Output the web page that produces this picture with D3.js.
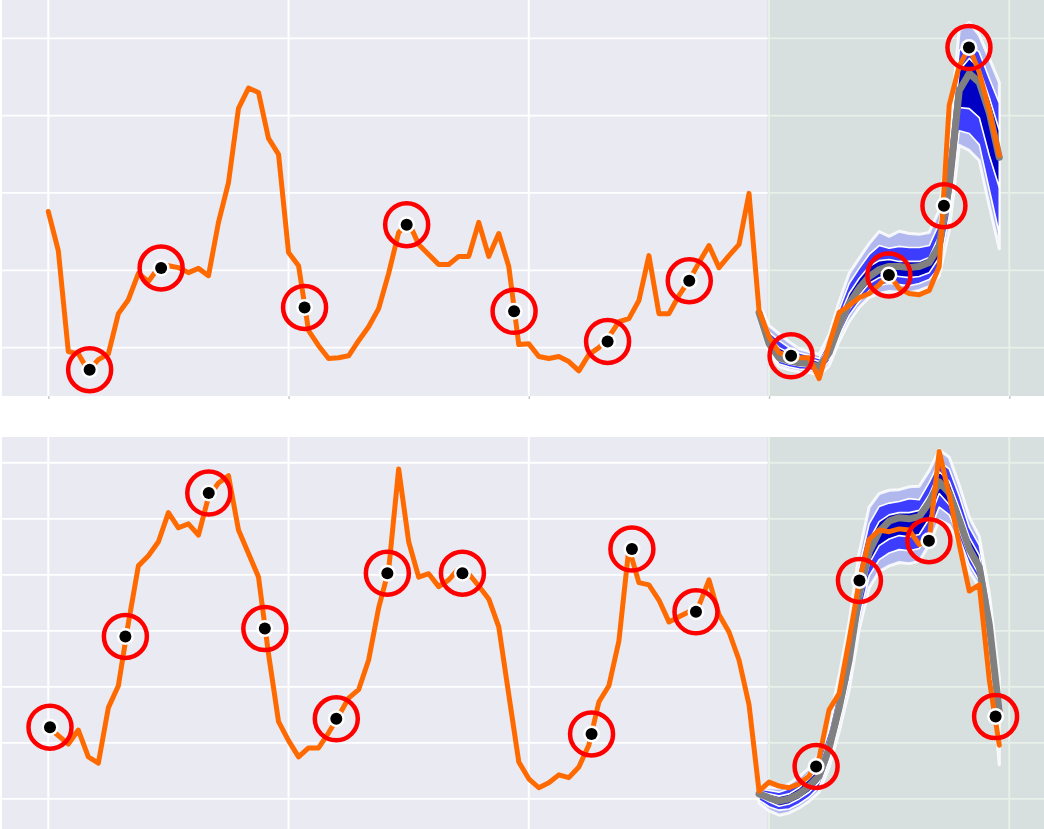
<!DOCTYPE html>
<html>
<head>
<meta charset="utf-8">
<script src="https://cdn.jsdelivr.net/npm/d3@7"></script>
<style>
  html, body { margin: 0; padding: 0; background: #ffffff; }
  svg { display: block; }
</style>
</head>
<body>
<svg id="chart" width="1044" height="829"></svg>
<script>
// ---------------------------------------------------------------------------
// Hourly series over four days; the probabilistic forecast covers the last day.
// ---------------------------------------------------------------------------
const hours = d3.range(96);
const dayTicks = [0, 24, 48, 72, 96];
const forecastStart = 72;
const forecastHours = d3.range(71, 96);

// ---- Series A (upper panel) ----
const observedA = [
  55.2, 45.1, 19.0, 18.4, 14.0, 16.9, 18.4, 28.8, 32.4, 39.2,
  37.1, 40.7, 41.2, 40.7, 39.4, 40.5, 38.6, 52.4, 62.7, 81.9,
  87.1, 86.0, 74.1, 70.0, 44.6, 41.2, 24.4, 20.5, 17.2, 17.4,
  17.9, 21.8, 25.4, 30.1, 39.2, 49.8, 52.4, 46.7, 44.1, 41.5,
  41.5, 43.6, 43.6, 52.4, 43.6, 49.5, 41.0, 20.8, 21.0, 17.7,
  17.2, 17.7, 16.4, 14.0, 18.2, 20.0, 22.8, 26.7, 27.5, 32.2,
  43.8, 28.8, 28.8, 33.5, 37.3, 42.0, 46.4, 40.7, 43.8, 46.7,
  59.9, 29.6, 22.8, 18.7, 17.9, 17.4, 17.4, 12.0, 20.8, 29.1,
  30.9, 32.9, 34.0, 36.3, 38.9, 35.3, 34.0, 33.7, 34.8, 41.0,
  82.7, 92.8, 97.7, 91.2, 81.4, 69.7
];
const medianA = [29.1, 21.0, 17.4, 16.6, 16.1, 15.9, 15.1, 18.7, 25.7, 31.4, 35.3, 38.4, 40.2, 41.0, 41.0, 40.7, 41.0, 42.0, 46.4, 61.9, 86.5, 90.9, 88.6, 80.8, 69.2];
const q10A = [27.0, 18.7, 15.1, 14.3, 13.8, 13.6, 12.8, 15.3, 21.6, 26.7, 30.4, 33.0, 34.0, 34.5, 34.3, 34.2, 34.8, 35.8, 38.6, 50.3, 72.3, 71.0, 68.4, 56.7, 45.6];
const q25A = [27.8, 19.4, 15.8, 15.0, 14.5, 14.3, 13.5, 16.4, 22.9, 28.3, 31.9, 34.8, 36.1, 36.6, 36.3, 36.0, 36.6, 37.6, 40.7, 54.1, 76.1, 75.4, 72.5, 60.9, 49.5];
const q40A = [28.3, 20.2, 16.6, 15.8, 15.3, 15.1, 14.3, 17.4, 24.1, 29.8, 33.5, 36.6, 38.1, 38.7, 38.4, 38.1, 38.4, 39.4, 43.3, 58.0, 82.1, 81.8, 79.5, 69.7, 61.4];
const q60A = [29.9, 22.8, 20.0, 18.7, 17.7, 17.2, 16.4, 20.3, 27.8, 34.0, 37.9, 41.0, 42.5, 42.8, 42.3, 42.3, 42.3, 43.3, 49.0, 67.1, 91.7, 94.8, 92.2, 84.7, 76.2];
const q75A = [30.4, 24.1, 21.8, 20.0, 18.7, 18.0, 17.2, 21.8, 29.8, 36.6, 40.5, 44.1, 46.4, 45.7, 46.2, 45.9, 45.9, 46.4, 52.1, 72.3, 96.9, 98.9, 96.4, 89.6, 83.2];
const q90A = [31.2, 25.7, 23.6, 21.5, 19.7, 19.0, 18.2, 23.4, 31.9, 39.2, 43.1, 46.9, 50.0, 48.8, 50.1, 49.5, 49.3, 49.8, 55.5, 76.1, 102.0, 104.1, 100.8, 94.8, 88.6];
const eventHoursA = [4.13, 11.27, 25.6, 35.8, 46.53, 55.87, 64.03, 74.2, 83.97, 89.47, 91.97];
const eventValuesA = [14.3, 40.6, 30.4, 51.8, 29.4, 21.6, 37.3, 17.9, 38.8, 56.7, 97.6];
const gridValuesA = [20, 40, 60, 80, 100];
const extentA = [7.5, 109.9];

// ---- Series B (lower panel) ----
const observedB = [
  22.9, 21.3, 19.8, 22.3, 17.5, 16.4, 26.3, 30.2, 41.4, 51.6,
  53.4, 55.9, 61.1, 58.4, 59.1, 57.1, 63.9, 66.4, 67.7, 58.0,
  53.8, 49.6, 35.9, 23.8, 20.4, 17.5, 19.1, 19.1, 21.8, 24.8,
  28.0, 29.5, 34.8, 44.1, 50.9, 68.9, 55.9, 49.6, 50.2, 47.9,
  49.1, 51.1, 50.2, 48.0, 45.7, 40.7, 28.6, 16.6, 13.6, 12.0,
  12.9, 14.3, 13.8, 15.7, 19.6, 27.3, 30.2, 38.2, 54.8, 48.6,
  48.2, 45.5, 41.6, 42.5, 43.4, 44.5, 49.1, 42.9, 39.8, 34.8,
  26.8, 11.4, 13.0, 12.3, 12.0, 12.7, 14.1, 17.3, 25.9, 28.8,
  38.4, 48.8, 56.3, 58.0, 57.7, 58.2, 58.0, 55.4, 56.3, 72.0,
  64.3, 55.4, 47.1, 48.2, 31.3, 19.6
];
const medianB = [10.9, 10.2, 9.6, 10.0, 10.9, 12.3, 14.1, 19.1, 26.3, 34.8, 46.4, 54.1, 57.7, 59.6, 60.2, 60.0, 60.4, 62.9, 66.6, 64.6, 59.8, 54.6, 51.4, 41.1, 25.4];
const q10B = [9.3, 7.9, 7.1, 7.5, 8.4, 9.6, 11.2, 15.7, 22.0, 29.4, 40.2, 47.7, 50.6, 51.6, 52.2, 52.0, 52.4, 55.4, 59.8, 58.9, 55.2, 50.7, 47.8, 36.5, 16.1];
const q25B = [9.8, 8.6, 8.0, 8.2, 9.1, 10.3, 12.1, 16.8, 23.4, 31.2, 42.1, 49.8, 52.7, 53.9, 54.5, 54.3, 54.7, 57.5, 62.1, 60.7, 56.6, 51.9, 48.9, 37.9, 20.0];
const q40B = [10.4, 9.5, 8.7, 9.1, 10.0, 11.2, 13.0, 17.8, 24.9, 33.0, 44.3, 52.0, 55.2, 56.4, 57.0, 56.8, 57.2, 60.0, 64.5, 62.5, 58.0, 53.2, 50.0, 39.3, 22.7];
const q60B = [11.4, 10.9, 10.5, 10.9, 12.0, 13.6, 15.5, 20.9, 28.4, 37.3, 48.9, 56.2, 59.5, 60.7, 61.1, 61.1, 61.5, 64.3, 68.4, 66.7, 61.9, 56.7, 53.5, 43.8, 28.1];
const q75B = [11.8, 11.5, 11.2, 11.8, 13.0, 14.6, 16.8, 22.3, 30.2, 39.4, 51.4, 59.1, 62.2, 62.8, 63.1, 63.6, 63.4, 66.5, 70.2, 68.9, 64.1, 58.5, 55.3, 45.4, 29.9];
const q90B = [12.3, 12.0, 11.9, 12.7, 13.9, 15.5, 18.0, 23.7, 32.0, 41.6, 53.9, 62.1, 64.5, 65.1, 65.2, 65.7, 65.8, 68.6, 72.3, 71.0, 66.0, 60.3, 56.8, 46.8, 31.7];
const eventHoursB = [0.17, 7.7, 16.03, 21.63, 28.77, 33.87, 41.37, 54.27, 58.3, 64.7, 76.7, 81.03, 87.97, 94.63];
const eventValuesB = [22.8, 39.0, 64.6, 40.4, 24.3, 50.3, 50.3, 21.6, 54.6, 43.4, 15.8, 49.0, 56.1, 24.7];
const gridValuesB = [10, 20, 30, 40, 50, 60, 70];
const extentB = [4.1, 74.6];

// ---------------------------------------------------------------------------
// Layout and styling
// ---------------------------------------------------------------------------
const W = 1044, H = 829;
const plotLeft = 2, plotRight = 1060;
const panels = [
  { top: 0,   bottom: 396, extent: extentA, grid: gridValuesA, observed: observedA,
    median: medianA, q10: q10A, q25: q25A, q40: q40A, q60: q60A, q75: q75A, q90: q90A,
    eventHours: eventHoursA, eventValues: eventValuesA, ticks: true },
  { top: 437, bottom: 832, extent: extentB, grid: gridValuesB, observed: observedB,
    median: medianB, q10: q10B, q25: q25B, q40: q40B, q60: q60B, q75: q75B, q90: q90B,
    eventHours: eventHoursB, eventValues: eventValuesB, ticks: false }
];

const colors = {
  background: "#eaeaf2",
  grid: "#ffffff",
  forecastShade: "rgba(140,180,150,0.2)",
  outer: "#b1b8ee",
  middle: "#3d3dff",
  inner: "#0000c4",
  median: "#808080",
  observed: "#ff6a00",
  event: "#ff0000",
  dot: "#000000"
};

const svg = d3.select("#chart");
const x = d3.scaleLinear().domain([0, 96]).range([48.3, 1009.3]);

panels.forEach((p, pi) => {
  const y = d3.scaleLinear().domain(p.extent).range([p.bottom, p.top]);
  const g = svg.append("g");

  const clipId = "clip" + pi;
  g.append("clipPath").attr("id", clipId)
    .append("rect")
    .attr("x", plotLeft).attr("y", p.top)
    .attr("width", plotRight - plotLeft).attr("height", p.bottom - p.top);

  // plot background
  g.append("rect")
    .attr("x", plotLeft).attr("y", p.top)
    .attr("width", plotRight - plotLeft).attr("height", p.bottom - p.top)
    .attr("fill", colors.background);

  // grid
  g.append("g").selectAll("line").data(p.grid).join("line")
    .attr("x1", plotLeft).attr("x2", plotRight)
    .attr("y1", d => y(d)).attr("y2", d => y(d))
    .attr("stroke", colors.grid).attr("stroke-width", 1.8);
  g.append("g").selectAll("line").data(dayTicks).join("line")
    .attr("x1", d => x(d)).attr("x2", d => x(d))
    .attr("y1", p.top).attr("y2", p.bottom)
    .attr("stroke", colors.grid).attr("stroke-width", 2);

  // tick marks under the upper panel
  if (p.ticks) {
    const axis = d3.axisBottom(x).tickValues(dayTicks).tickSize(3).tickFormat("");
    const ag = g.append("g").attr("transform", `translate(0,${p.bottom})`).call(axis);
    ag.select(".domain").remove();
    ag.selectAll(".tick line").attr("stroke", "#c8c8cc").attr("stroke-width", 1.5);
  }

  // forecast window shading
  g.append("rect")
    .attr("x", x(forecastStart) - 1.5).attr("y", p.top)
    .attr("width", plotRight - x(forecastStart) + 1.5).attr("height", p.bottom - p.top)
    .attr("fill", colors.forecastShade);

  const body = g.append("g").attr("clip-path", `url(#${clipId})`);

  // forecast fan (quantile bands)
  const band = (lo, hi) => d3.area()
    .x((d, i) => x(forecastHours[i]))
    .y0((d, i) => y(lo[i]))
    .y1((d, i) => y(hi[i]))
    .curve(d3.curveLinear);

  body.append("path")
    .attr("d", band(p.q10, p.q90)(forecastHours))
    .attr("fill", colors.outer)
    .attr("stroke", "#ffffff").attr("stroke-opacity", 0.85)
    .attr("stroke-width", 3).attr("stroke-linejoin", "round");
  body.append("path")
    .attr("d", band(p.q25, p.q75)(forecastHours))
    .attr("fill", colors.middle)
    .attr("stroke", "#ffffff").attr("stroke-width", 1.6).attr("stroke-linejoin", "round");
  body.append("path")
    .attr("d", band(p.q40, p.q60)(forecastHours))
    .attr("fill", colors.inner)
    .attr("stroke", "#ffffff").attr("stroke-width", 1.6).attr("stroke-linejoin", "round");

  // forecast median
  const medianLine = d3.line()
    .x((d, i) => x(forecastHours[i]))
    .y(d => y(d));
  body.append("path")
    .attr("d", medianLine(p.median))
    .attr("fill", "none")
    .attr("stroke", colors.median).attr("stroke-width", 7)
    .attr("stroke-linecap", "round").attr("stroke-linejoin", "round");

  // observed series
  const obsLine = d3.line()
    .x((d, i) => x(hours[i]))
    .y(d => y(d));
  body.append("path")
    .attr("d", obsLine(p.observed))
    .attr("fill", "none")
    .attr("stroke", colors.observed).attr("stroke-width", 5)
    .attr("stroke-linecap", "round").attr("stroke-linejoin", "round");

  // flagged events
  const events = p.eventHours.map((t, i) => ({ t, v: p.eventValues[i] }));
  body.append("g").selectAll("circle").data(events).join("circle")
    .attr("cx", d => x(d.t)).attr("cy", d => y(d.v))
    .attr("r", 21.5)
    .attr("fill", "none")
    .attr("stroke", colors.event).attr("stroke-width", 4.5);
  body.append("g").selectAll("circle").data(events).join("circle")
    .attr("cx", d => x(d.t)).attr("cy", d => y(d.v))
    .attr("r", 8.5)
    .attr("fill", "#ffffff");
  body.append("g").selectAll("circle").data(events).join("circle")
    .attr("cx", d => x(d.t)).attr("cy", d => y(d.v))
    .attr("r", 6)
    .attr("fill", colors.dot);
});
</script>
</body>
</html>
